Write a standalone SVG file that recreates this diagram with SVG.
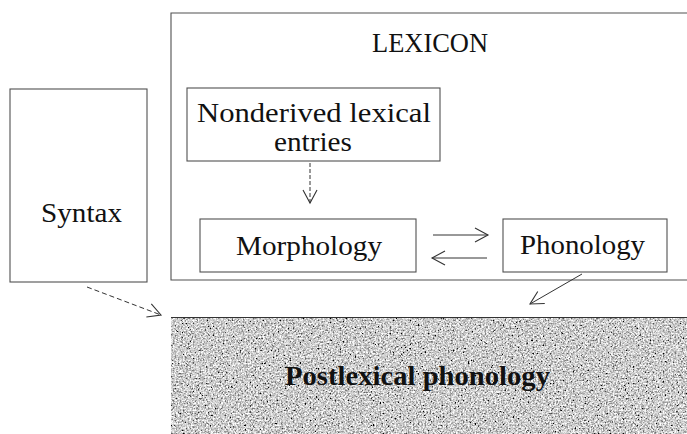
<svg xmlns="http://www.w3.org/2000/svg" width="687" height="434" viewBox="0 0 687 434">
<style>
.box{fill:none;stroke:#505050;stroke-width:1.1}
.lbl{font-family:"Liberation Serif",serif;font-size:28px;fill:#111}
.conn{fill:none;stroke:#333;stroke-width:1}
</style>
<defs>
<marker id="ah" markerUnits="userSpaceOnUse" markerWidth="18" markerHeight="18" refX="14" refY="8" orient="auto">
<path d="M1,1 L14,8 L1,15" fill="none" stroke="#333" stroke-width="1.1"/>
</marker>
<filter id="grain" x="0" y="0" width="100%" height="100%" filterUnits="objectBoundingBox">
<feTurbulence type="fractalNoise" baseFrequency="0.6" numOctaves="3" seed="7" result="n"/>
<feColorMatrix in="n" type="matrix" values="0.33 0.33 0.33 0 0 0.33 0.33 0.33 0 0 0.33 0.33 0.33 0 0 0 0 0 0 1" result="g"/>
<feComponentTransfer in="g" result="c">
<feFuncR type="linear" slope="3.4" intercept="-1.08"/>
<feFuncG type="linear" slope="3.4" intercept="-1.08"/>
<feFuncB type="linear" slope="3.4" intercept="-1.08"/>
<feFuncA type="linear" slope="0" intercept="1"/>
</feComponentTransfer>
</filter>
</defs>
<rect width="687" height="434" fill="#fff"/>

<g id="lexicon">
<path class="box" d="M687,13 H171 V280 H687"/>
<text class="lbl" x="372" y="52" textLength="116" lengthAdjust="spacingAndGlyphs" font-size="26">LEXICON</text>
</g>

<g id="syntax">
<rect class="box" x="10" y="89" width="137" height="193" stroke="#666"/>
<text class="lbl" x="41" y="222" textLength="81" lengthAdjust="spacingAndGlyphs">Syntax</text>
</g>

<g id="nonderived">
<rect class="box" x="187" y="88" width="253" height="73"/>
<text class="lbl" x="197" y="122" textLength="234" lengthAdjust="spacingAndGlyphs" font-size="29">Nonderived lexical</text>
<text class="lbl" x="274" y="151" textLength="78" lengthAdjust="spacingAndGlyphs" font-size="29">entries</text>
</g>

<g id="morphology">
<rect class="box" x="200" y="219" width="216" height="53"/>
<text class="lbl" x="236" y="255" textLength="146" lengthAdjust="spacingAndGlyphs">Morphology</text>
</g>

<g id="phonology">
<rect class="box" x="503" y="219" width="164" height="53"/>
<text class="lbl" x="520" y="254" textLength="125" lengthAdjust="spacingAndGlyphs">Phonology</text>
</g>

<g id="postlexical">
<rect x="171" y="317" width="516" height="117" fill="#a0a0a0" filter="url(#grain)"/>
<line x1="171" y1="317.5" x2="687" y2="317.5" stroke="#333" stroke-width="1"/>
<text x="285" y="385" textLength="265" lengthAdjust="spacingAndGlyphs" font-family="'Liberation Serif',serif" font-size="27" font-weight="bold" fill="#111">Postlexical phonology</text>
</g>

<g id="connectors">
<line class="conn" x1="310" y1="163" x2="310" y2="203" stroke-dasharray="4,2" marker-end="url(#ah)"/>
<line class="conn" x1="433" y1="235" x2="488" y2="235" marker-end="url(#ah)"/>
<line class="conn" x1="487" y1="258" x2="432" y2="258" marker-end="url(#ah)"/>
<line class="conn" x1="582" y1="274" x2="530" y2="304" marker-end="url(#ah)"/>
<line class="conn" x1="87" y1="287" x2="161" y2="315" stroke-dasharray="5,3" marker-end="url(#ah)"/>
</g>
</svg>
